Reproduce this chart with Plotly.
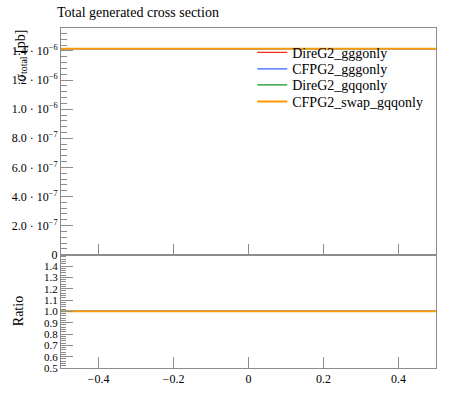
import plotly.graph_objects as go

# one bin, total cross section per sample
bin_edges = [-0.5, 0.5]
series_names = ["DireG2_gggonly", "CFPG2_gggonly", "DireG2_gqqonly", "CFPG2_swap_gqqonly"]
series_xsec = [1.416e-6, 1.416e-6, 1.416e-6, 1.416e-6]
series_colors = ["#EE3311", "#3366FF", "#109618", "#FF9900"]
series_widths = [1.2, 1.2, 1.2, 1.8]

y_tickvals = [0, 2e-7, 4e-7, 6e-7, 8e-7, 1.0e-6, 1.2e-6, 1.4e-6]
y_ticktext = ["0", "2.0 · 10<sup>−7</sup>", "4.0 · 10<sup>−7</sup>", "6.0 · 10<sup>−7</sup>",
              "8.0 · 10<sup>−7</sup>", "1.0 · 10<sup>−6</sup>", "1.2 · 10<sup>−6</sup>",
              "1.4 · 10<sup>−6</sup>"]
ratio_tickvals = [0.5, 0.6, 0.7, 0.8, 0.9, 1.0, 1.1, 1.2, 1.3, 1.4]
x_tickvals = [-0.4, -0.2, 0, 0.2, 0.4]

FONT = "Liberation Serif, DejaVu Serif, serif"
AXIS_GREY = "#8c8c8c"
W, H = 450, 407

fig = go.Figure()

# one legend per entry so the rows can sit as tight as in the reference
legend_names = ["legend", "legend2", "legend3", "legend4"]
legend_ys = [0.9744, 0.9258, 0.8788, 0.8297]

ref = series_xsec[0]
for name, xs, col, lw, lg in zip(series_names, series_xsec, series_colors,
                                 series_widths, legend_names):
    fig.add_trace(go.Scatter(
        x=bin_edges, y=[xs, xs], mode="lines", name=name, legend=lg,
        line=dict(color=col, width=lw), xaxis="x", yaxis="y",
    ))
    fig.add_trace(go.Scatter(
        x=bin_edges, y=[xs / ref, xs / ref], mode="lines", showlegend=False,
        line=dict(color=col, width=lw), xaxis="x2", yaxis="y2",
    ))

common_x = dict(
    range=[-0.5, 0.5], tickvals=x_tickvals, ticks="inside", ticklen=11,
    tickcolor=AXIS_GREY, showline=True, linecolor=AXIS_GREY, mirror=True,
    showgrid=False, zeroline=False,
)
common_y = dict(
    ticks="inside", ticklen=12, tickcolor=AXIS_GREY, showline=True,
    linecolor=AXIS_GREY, mirror=True, showgrid=False, zeroline=False,
)

legends = {}
for lg, ly in zip(legend_names, legend_ys):
    legends[lg] = dict(x=0.51, xanchor="left", y=ly, yanchor="top",
                       bgcolor="rgba(0,0,0,0)", font=dict(size=14))

fig.update_layout(
    width=W, height=H,
    margin=dict(l=56, r=14, t=28, b=38.5),
    paper_bgcolor="white", plot_bgcolor="white",
    font=dict(family=FONT, size=12, color="black"),
    title=dict(text="Total generated cross section", x=57 / W, xanchor="left",
               y=1 - 12.5 / H, yanchor="middle", font=dict(size=14)),
    xaxis=dict(common_x, domain=[0, 1], anchor="y", showticklabels=False),
    yaxis=dict(common_y, domain=[0.3333, 1], anchor="x", range=[0, 1.558e-6],
               tickvals=y_tickvals, ticktext=y_ticktext,
               minor=dict(ticks="inside", ticklen=6, dtick=4e-8, tick0=0,
                          tickcolor=AXIS_GREY)),
    xaxis2=dict(common_x, domain=[0, 1], anchor="y2"),
    yaxis2=dict(common_y, domain=[0, 0.3333], anchor="x2", range=[0.5, 1.5],
                tickvals=ratio_tickvals, ticktext=[f"{v:.1f}" for v in ratio_tickvals],
                tickfont=dict(size=11),
                minor=dict(ticks="inside", ticklen=5, dtick=0.02, tick0=0.5,
                           tickcolor=AXIS_GREY)),
    annotations=[
        dict(text="σ<sub>total</sub> [pb]", textangle=-90, xref="paper", yref="paper",
             x=-0.108, y=1, xanchor="center", yanchor="top", showarrow=False,
             font=dict(size=14)),
        dict(text="Ratio", textangle=-90, xref="paper", yref="paper",
             x=-0.113, y=0.166, xanchor="center", yanchor="middle", showarrow=False,
             font=dict(size=14)),
    ],
    **legends,
)

# drop the default body margin so the 450x407 figure fills the window exactly
fig.write_html("out.html", config={"displayModeBar": False},
               post_script="document.body.style.margin = '0';")
